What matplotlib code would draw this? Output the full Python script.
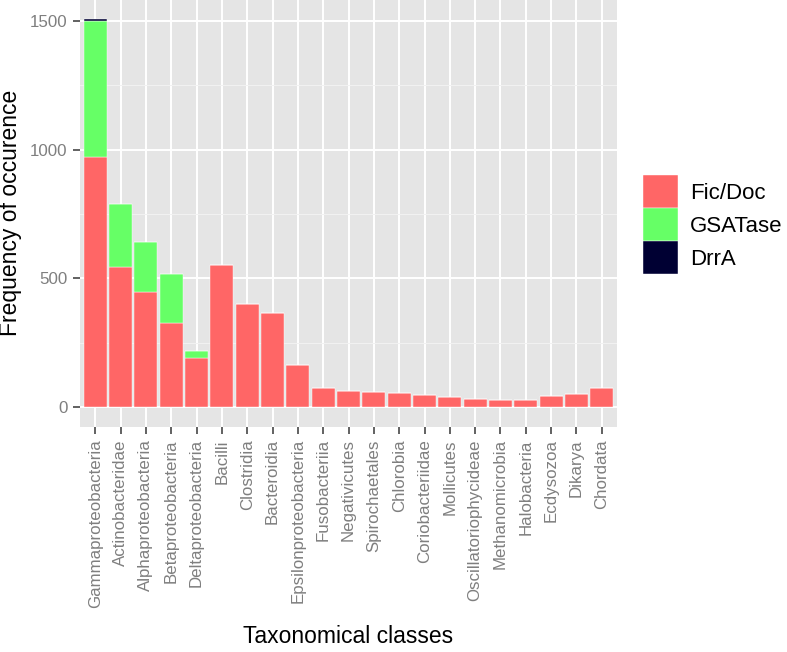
import matplotlib.pyplot as plt
import numpy as np
from matplotlib import font_manager

plt.rcParams['font.family'] = ['Liberation Sans', 'DejaVu Sans']

# data
classes = ['Gammaproteobacteria', 'Actinobacteridae', 'Alphaproteobacteria',
           'Betaproteobacteria', 'Deltaproteobacteria', 'Bacilli', 'Clostridia',
           'Bacteroidia', 'Epsilonproteobacteria', 'Fusobacteriia', 'Negativicutes',
           'Spirochaetales', 'Chlorobia', 'Coriobacteriidae', 'Mollicutes',
           'Oscillatoriophycideae', 'Methanomicrobia', 'Halobacteria', 'Ecdysozoa',
           'Dikarya', 'Chordata']
fic_doc = [970, 544, 446, 327, 192, 554, 400, 366, 164, 74, 65,
           58, 57, 49, 41, 34, 30, 30, 45, 52, 74]
gsatase = [530, 243, 194, 189, 27, 0, 0, 0, 0, 0, 0,
           2, 0, 0, 0, 0, 0, 0, 0, 0, 0]
drra = [5, 0, 0, 0, 0, 0, 0, 0, 0, 0, 0,
        0, 0, 0, 0, 0, 0, 0, 0, 0, 0]

series = [('Fic/Doc', fic_doc, '#FF6666'),
          ('GSATase', gsatase, '#66FF66'),
          ('DrrA', drra, '#000033')]

names = {f.name for f in font_manager.fontManager.ttflist}
narrow = 'Liberation Sans Narrow' if 'Liberation Sans Narrow' in names else 'Liberation Sans'

fig = plt.figure(figsize=(7.87, 6.52), dpi=100)
ax = fig.add_axes([0.1017, 0.3456, 0.6823, 0.6544])
ax.set_facecolor('#E5E5E5')

x = np.arange(len(classes))
bottom = np.zeros(len(classes))
handles = []
for name, vals, col in series:
    vals = np.array(vals, dtype=float)
    b = ax.bar(x, vals, width=0.9, bottom=bottom, color=col,
               edgecolor='white', linewidth=0.3, zorder=3, label=name)
    handles.append(b)
    bottom += vals

ax.set_xlim(-0.6, len(classes) - 0.4)
ax.set_ylim(-75, 1580)
ax.set_yticks([0, 500, 1000, 1500])
ax.set_yticks([250, 750, 1250], minor=True)
ax.set_xticks(x)
ax.set_xticklabels(classes, rotation=90, family=narrow, fontsize=12.2)
ax.grid(True, which='major', color='white', linewidth=1.4, zorder=0)
ax.grid(True, which='minor', axis='y', color='#F2F2F2', linewidth=0.7, zorder=0)
ax.set_axisbelow(True)
for s in ax.spines.values():
    s.set_visible(False)
ax.tick_params(axis='both', which='major', colors='#555555', labelcolor='#7F7F7F',
               length=5, width=1.3, pad=4)
ax.tick_params(axis='y', which='major', labelsize=12.2)
ax.tick_params(axis='y', which='minor', length=0)

ax.set_xlabel('Taxonomical classes', fontsize=16.5, labelpad=12)
ax.set_ylabel('Frequency of occurence', fontsize=16.5)
ax.yaxis.set_label_coords(-0.108, 0.5)

fig.legend(handles=handles, labels=[s[0] for s in series],
           loc='upper left', bbox_to_anchor=(0.803, 0.748), frameon=False,
           fontsize=16, handlelength=1.55, handleheight=1.9, labelspacing=0.0,
           handletextpad=0.55, borderpad=0)

fig.savefig('out.png', dpi=100)
